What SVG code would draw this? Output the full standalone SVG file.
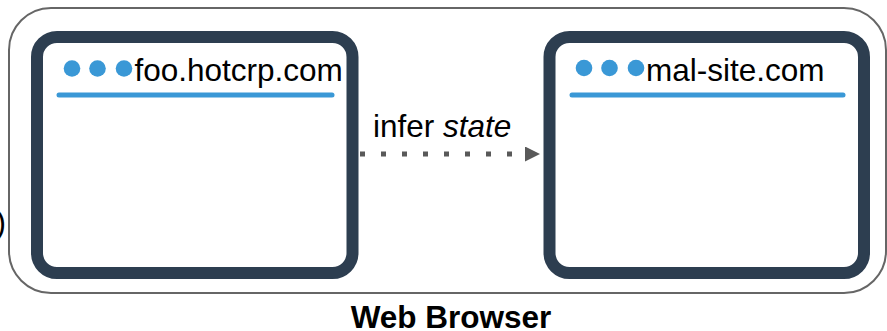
<svg xmlns="http://www.w3.org/2000/svg" width="887" height="331" viewBox="0 0 887 331">
  <style>
    .frame { fill: none; stroke: #666666; stroke-width: 2; }
    .win { fill: #ffffff; stroke: #2d3e50; stroke-width: 12; }
    .dot { fill: #3a98d6; }
    .bar { stroke: #3a98d6; stroke-width: 5; stroke-linecap: round; }
    .url { font-family: "Liberation Sans", Arial, sans-serif; font-size: 31.5px; fill: #000000; }
    .lbl { font-family: "Liberation Sans", Arial, sans-serif; font-size: 31.5px; fill: #000000; }
    .title { font-family: "Liberation Sans", Arial, sans-serif; font-size: 31.5px; font-weight: bold; fill: #000000; }
    .link { stroke: #595959; stroke-width: 5; stroke-dasharray: 5 16; fill: none; }
  </style>
  <defs>
    <marker id="arrow" markerWidth="16" markerHeight="16" refX="0" refY="7.5" orient="auto" markerUnits="userSpaceOnUse">
      <path d="M0,0 L15,7.5 L0,15 Z" fill="#595959"/>
    </marker>
  </defs>
  <rect width="887" height="331" fill="#ffffff"/>

  <!-- browser frame -->
  <g id="browser">
    <rect class="frame" x="9" y="8" width="877" height="285" rx="42" ry="42"/>
    <text class="lbl" x="-4.5" y="233" font-size="32">)</text>
    <text class="title" x="451" y="328" text-anchor="middle">Web Browser</text>
  </g>

  <!-- first tab -->
  <g id="tab-hotcrp">
    <rect class="win" x="37" y="37" width="315.5" height="236" rx="20" ry="20"/>
    <circle class="dot" cx="72" cy="68.5" r="8.3"/>
    <circle class="dot" cx="97.5" cy="68.5" r="8.3"/>
    <circle class="dot" cx="124" cy="68.5" r="8.3"/>
    <text class="url" x="134.5" y="81">foo.hotcrp.com</text>
    <line class="bar" x1="59" y1="95" x2="332" y2="95"/>
  </g>

  <!-- second tab -->
  <g id="tab-mal">
    <rect class="win" x="549.5" y="37" width="314.5" height="236" rx="20" ry="20"/>
    <circle class="dot" cx="584" cy="68" r="8.3"/>
    <circle class="dot" cx="609.5" cy="68" r="8.3"/>
    <circle class="dot" cx="636" cy="68" r="8.3"/>
    <text class="url" x="646" y="81">mal-site.com</text>
    <line class="bar" x1="572" y1="95" x2="843" y2="95"/>
  </g>

  <!-- connectors -->
  <g id="connectors">
    <line class="link" x1="360" y1="154" x2="525" y2="154" marker-end="url(#arrow)"/>
    <text class="lbl" x="373" y="137">infer <tspan font-style="italic">state</tspan></text>
  </g>
</svg>
